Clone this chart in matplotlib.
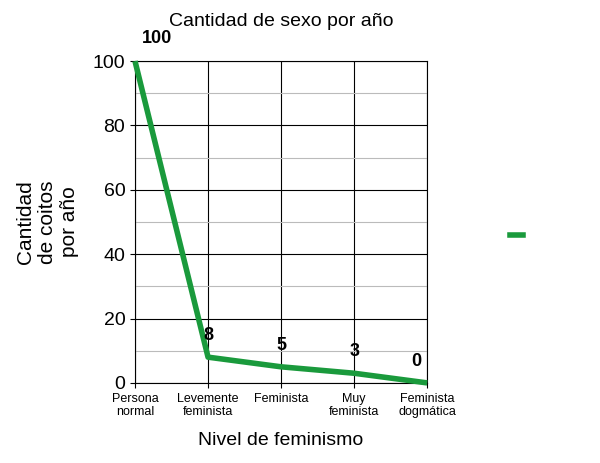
import matplotlib
matplotlib.use("Agg")
import matplotlib.pyplot as plt
from matplotlib.lines import Line2D

categories = ["Persona\nnormal", "Levemente\nfeminista", "Feminista", "Muy\nfeminista", "Feminista\ndogmática"]
values = [100, 8, 5, 3, 0]
green = "#1a9a3c"

fig = plt.figure(figsize=(6, 4.63), dpi=100)
ax = fig.add_axes([0.225, 0.173, 0.487, 0.695])
x = list(range(len(categories)))
ax.plot(x, values, color=green, lw=4, solid_capstyle="butt", zorder=3, clip_on=False)
ax.set_xlim(0, 4)
ax.set_ylim(0, 100)
ax.set_yticks(range(0, 101, 20))
ax.set_yticks(range(10, 100, 20), minor=True)
ax.set_xticks(x)
ax.set_xticklabels(categories, fontsize=9, family="Liberation Sans")
ax.tick_params(axis="y", labelsize=14)
for t in ax.get_yticklabels():
    t.set_family("Liberation Sans")
ax.grid(True, which="major", color="black", lw=0.8)
ax.grid(True, which="minor", axis="y", color="#bbbbbb", lw=0.8)
ax.tick_params(which="minor", length=0)
for s in ax.spines.values():
    s.set_color("black")
offs = [(0.3, 4.5), (0, 4), (0, 4), (0, 4), (-0.15, 4)]
for xi, v, (dx, dy) in zip(x, values, offs):
    ax.text(xi + dx, v + dy, str(v), ha="center", va="bottom", fontsize=13,
            fontweight="bold", family="Liberation Sans", clip_on=False)
ax.set_title("Cantidad de sexo por año", fontsize=14, family="Liberation Sans", pad=25)
ax.set_xlabel("Nivel de feminismo", fontsize=14, family="Liberation Sans", labelpad=10)
ax.set_ylabel("Cantidad\nde coitos\npor año", fontsize=15, family="Liberation Sans",
              labelpad=10, multialignment="center")
fig.legend(handles=[Line2D([], [], color=green, lw=4)], labels=[""],
           loc="center", bbox_to_anchor=(0.87, 0.49), frameon=False, handlelength=1)
fig.savefig("out.png", dpi=100)
